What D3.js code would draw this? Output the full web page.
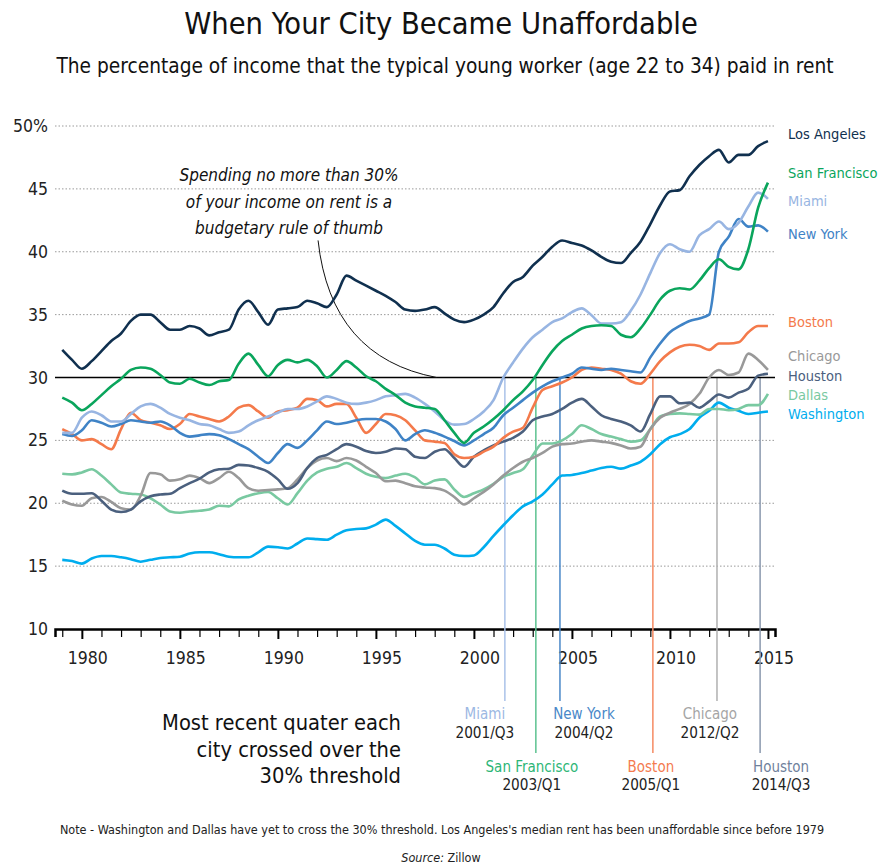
<!DOCTYPE html>
<html>
<head>
<meta charset="utf-8">
<script src="https://cdn.jsdelivr.net/npm/d3@7"></script>
<style>
  body { margin: 0; background: #fff; }
  svg { display: block; font-family: "Liberation Sans Narrow", "DejaVu Sans Condensed", sans-serif; }
</style>
</head>
<body>
<script>
// half-yearly points, 1979 .. 2015
var years = d3.range(1979, 2015.01, 0.5);

var cities = ["Los Angeles", "San Francisco", "Miami", "New York", "Boston", "Chicago", "Houston", "Dallas", "Washington"];
var colors = ["#10304f", "#0aa55c", "#98b5e2", "#3f83c6", "#f47a4b", "#999999", "#4b607e", "#79c9a1", "#00adee"];

var losAngeles = [32.2,31.4,30.7,31.3,32.1,32.9,33.5,34.5,35.0,35.0,34.4,33.8,33.8,34.1,33.9,33.35,33.6,33.8,35.4,36.1,35.2,34.2,35.4,35.5,35.6,36.1,35.9,35.6,36.6,38.1,37.7,37.3,36.9,36.5,36.0,35.4,35.3,35.4,35.6,35.1,34.6,34.4,34.6,35.0,35.6,36.7,37.6,38.0,38.9,39.6,40.4,40.9,40.7,40.5,40.1,39.6,39.2,39.1,39.9,40.8,42.2,43.7,44.8,44.9,46.0,46.9,47.6,48.1,47.1,47.7,47.7,48.4,48.8];
var sanFrancisco = [28.4,28.0,27.4,27.9,28.6,29.3,29.9,30.6,30.8,30.7,30.2,29.6,29.5,29.9,29.6,29.4,29.7,29.8,31.1,31.9,31.0,30.1,31.0,31.4,31.2,31.4,30.9,30.0,30.6,31.3,30.8,30.1,29.7,29.1,28.6,28.0,27.7,27.6,27.5,26.6,25.6,24.8,25.6,26.1,26.7,27.4,28.2,28.9,29.8,31.0,32.1,32.9,33.4,33.9,34.1,34.15,34.1,33.4,33.2,33.9,35.0,36.2,36.9,37.1,37.0,37.7,38.7,39.4,38.8,38.6,40.2,43.5,45.5];
var miami = [25.6,25.6,26.8,27.3,27.0,26.5,26.5,27.1,27.7,27.9,27.6,27.1,26.8,26.6,26.3,26.2,25.9,25.6,25.7,26.2,26.6,26.9,27.2,27.5,27.5,27.7,28.1,28.5,28.3,28.0,27.9,28.0,28.2,28.5,28.6,28.7,28.4,27.9,27.3,26.6,26.25,26.3,26.7,27.3,28.2,30.0,31.2,32.3,33.2,33.8,34.4,34.7,35.2,35.5,34.95,34.3,34.3,34.4,35.3,36.6,38.3,39.9,40.6,40.2,40.0,41.3,41.8,42.4,41.8,42.3,43.6,44.7,44.2];
var newYork = [25.5,25.35,25.8,26.6,26.4,26.1,26.3,26.6,26.5,26.4,26.5,26.2,25.6,25.3,25.4,25.5,25.4,25.1,24.7,24.3,23.7,23.2,24.0,24.7,24.4,25.0,25.8,26.5,26.3,26.4,26.6,26.7,26.7,26.5,25.9,25.0,25.5,25.8,25.6,25.3,24.95,24.6,25.0,25.5,26.0,27.0,27.6,28.2,28.8,29.3,29.7,30.0,30.3,30.8,30.7,30.6,30.7,30.6,30.5,30.4,31.6,32.7,33.6,34.1,34.5,34.7,35.0,40.0,41.2,42.6,42.0,42.1,41.6];
var boston = [25.9,25.5,25.0,25.1,24.7,24.3,25.9,27.2,26.6,26.4,26.2,25.9,26.3,27.1,26.9,26.7,26.5,26.9,27.6,27.8,27.3,26.8,27.3,27.4,27.6,28.3,28.2,27.7,27.9,27.9,26.8,25.6,26.3,27.1,27.0,26.6,25.8,25.0,24.9,24.8,23.9,23.6,23.7,24.1,24.5,25.2,25.7,26.0,27.6,29.0,29.3,29.6,30.0,30.6,30.8,30.7,30.6,30.3,29.7,29.5,30.3,31.3,32.0,32.45,32.6,32.5,32.2,32.7,32.7,32.8,33.6,34.1,34.1];
var chicago = [20.2,19.9,19.8,20.4,20.5,20.1,19.6,19.5,20.6,22.4,22.3,21.8,21.9,22.2,22.0,21.6,22.0,22.5,22.0,21.2,21.0,21.05,21.1,21.2,21.9,22.8,23.4,23.6,23.35,23.6,23.4,22.9,22.4,21.75,21.8,21.6,21.35,21.25,21.2,21.0,20.5,19.9,20.4,20.9,21.5,22.2,22.8,23.3,23.6,24.0,24.5,24.7,24.75,24.9,25.0,24.9,24.8,24.6,24.35,24.5,25.9,26.8,27.2,27.5,27.9,28.7,30.0,30.6,30.2,30.4,31.9,31.4,30.6];
var houston = [21.0,20.75,20.75,20.8,20.2,19.5,19.3,19.5,20.15,20.55,20.7,20.75,21.2,21.6,21.95,22.45,22.7,22.75,23.05,23.0,22.8,22.5,21.9,21.15,21.6,22.8,23.6,23.85,24.3,24.7,24.5,24.15,24.0,24.1,24.35,24.3,23.7,23.6,24.1,24.3,23.6,22.9,23.7,24.2,24.6,24.9,25.2,25.7,26.6,26.9,27.1,27.5,28.0,28.3,27.7,27.0,26.7,26.5,26.2,25.7,27.1,28.5,28.5,27.95,28.0,27.6,28.1,28.65,28.4,28.8,29.1,30.15,30.3];
var dallas = [22.35,22.3,22.45,22.7,22.2,21.5,20.85,20.75,20.7,20.4,19.9,19.35,19.25,19.35,19.4,19.5,19.8,19.75,20.3,20.6,20.8,20.9,20.4,19.9,20.8,21.8,22.45,22.75,22.9,23.2,22.8,22.35,22.1,22.0,22.2,22.35,22.05,21.5,21.8,21.9,21.1,20.5,20.8,21.1,21.55,22.1,22.4,22.7,23.8,24.75,24.75,25.0,25.5,26.2,25.9,25.5,25.3,25.1,24.9,25.0,25.9,26.9,27.1,27.15,27.1,27.05,27.5,27.5,27.4,27.5,27.8,27.8,28.7];
var washington = [15.5,15.4,15.2,15.6,15.8,15.8,15.7,15.55,15.35,15.5,15.65,15.7,15.75,16.0,16.1,16.1,15.95,15.75,15.7,15.7,16.1,16.55,16.5,16.4,16.8,17.2,17.15,17.1,17.5,17.85,17.95,18.0,18.3,18.7,18.2,17.6,17.0,16.7,16.7,16.4,15.9,15.8,15.85,16.5,17.4,18.25,19.05,19.75,20.15,20.7,21.5,22.2,22.25,22.4,22.6,22.8,22.9,22.75,23.0,23.3,23.9,24.7,25.25,25.5,25.9,26.8,27.35,28.0,27.6,27.35,27.1,27.2,27.3];

var seriesValues = [losAngeles, sanFrancisco, miami, newYork, boston, chicago, houston, dallas, washington];

// where each city crossed 30% (position on the time axis) and the quarter label
var crossCities = ["Miami", "San Francisco", "New York", "Boston", "Chicago", "Houston"];
var crossYears = [2001.58, 2003.16, 2004.39, 2009.13, 2012.4, 2014.6];
var crossLabels = ["2001/Q3", "2003/Q1", "2004/Q2", "2005/Q1", "2012/Q2", "2014/Q3"];

var yTicks = [10, 15, 20, 25, 30, 35, 40, 45, 50];
var xMajor = [1980, 1985, 1990, 1995, 2000, 2005, 2010, 2015];

var width = 882, height = 867;

var svg = d3.select("body").append("svg")
  .attr("width", width)
  .attr("height", height);

var x = d3.scaleLinear().domain([1978.63, 2015.36]).range([55, 775]);
var y = d3.scaleLinear().domain([10, 50]).range([629, 126]);

// title
svg.append("text")
  .attr("x", 441).attr("y", 34)
  .attr("text-anchor", "middle")
  .style("font-size", "30.5px")
  .style("fill", "#111")
  .text("When Your City Became Unaffordable");
svg.append("text")
  .attr("x", 445).attr("y", 73)
  .attr("text-anchor", "middle")
  .style("font-size", "20.7px")
  .style("fill", "#111")
  .text("The percentage of income that the typical young worker (age 22 to 34) paid in rent");

// grid
svg.append("g").selectAll("line")
  .data(yTicks.filter(function(d){ return d > 10 && d != 30; }))
  .enter().append("line")
    .attr("x1", 55).attr("x2", 775)
    .attr("y1", function(d){ return y(d); })
    .attr("y2", function(d){ return y(d); })
    .attr("stroke", "#9a9a9a")
    .attr("stroke-width", 1)
    .attr("stroke-dasharray", "1.5,2");

svg.append("g").selectAll("text")
  .data(yTicks)
  .enter().append("text")
    .attr("x", 48)
    .attr("y", function(d){ return y(d) + 6; })
    .attr("text-anchor", "end")
    .style("font-size", "17.5px")
    .style("fill", "#222")
    .text(function(d){ return d == 50 ? d + "%" : d; });

// x axis
var axis = d3.axisBottom(x)
  .tickValues(d3.range(1979, 2016))
  .tickSizeOuter(0)
  .tickSize(8)
  .tickFormat("");
var gx = svg.append("g")
  .attr("transform", "translate(0," + y(10) + ")")
  .call(axis);
gx.select(".domain").attr("stroke", "#000").attr("stroke-width", 2.5);
gx.selectAll(".tick line")
  .attr("stroke", "#000")
  .attr("stroke-width", function(d){ return d % 5 == 0 ? 2 : 1.2; })
  .attr("y2", function(d){ return d % 5 == 0 ? 10 : 8; });

svg.append("g").selectAll("text")
  .data(xMajor)
  .enter().append("text")
    .attr("x", function(d){ return x(d) + 6; })
    .attr("y", 664)
    .attr("text-anchor", "middle")
    .style("font-size", "17.5px")
    .style("fill", "#222")
    .text(function(d){ return d; });

// crossing markers
var crossDx = [-20, -4, 24, -2, -7, 21];
var crossRow = [0, 1, 0, 1, 0, 1];
var crossColor = ["#9cb8e3", "#2db676", "#4a88c8", "#f47b4f", "#a5a5a5", "#6f819c"];
var crossLine = ["#aac2e8", "#5cc290", "#4a88c8", "#f58a62", "#b0b0b0", "#8a98ad"];

var cg = svg.append("g").selectAll("g")
  .data(crossCities)
  .enter().append("g");
cg.append("line")
  .attr("x1", function(d, i){ return x(crossYears[i]); })
  .attr("x2", function(d, i){ return x(crossYears[i]); })
  .attr("y1", y(30))
  .attr("y2", function(d, i){ return crossRow[i] ? 753 : 701; })
  .attr("stroke", function(d, i){ return crossLine[i]; })
  .attr("stroke-width", 1.5);
cg.append("text")
  .attr("x", function(d, i){ return x(crossYears[i]) + crossDx[i]; })
  .attr("y", function(d, i){ return crossRow[i] ? 772 : 719; })
  .attr("text-anchor", "middle")
  .style("font-size", "15px")
  .style("fill", function(d, i){ return crossColor[i]; })
  .text(function(d){ return d; });
cg.append("text")
  .attr("x", function(d, i){ return x(crossYears[i]) + crossDx[i]; })
  .attr("y", function(d, i){ return crossRow[i] ? 790 : 738; })
  .attr("text-anchor", "middle")
  .style("font-size", "15.2px")
  .style("fill", "#222")
  .text(function(d, i){ return crossLabels[i]; });

// 30% threshold
svg.append("line")
  .attr("x1", 55).attr("x2", 775)
  .attr("y1", y(30)).attr("y2", y(30))
  .attr("stroke", "#000")
  .attr("stroke-width", 1.3);

// annotation
var ann = ["Spending no more than 30%", "of your income on rent is a", "budgetary rule of thumb"];
svg.append("g").selectAll("text")
  .data(ann)
  .enter().append("text")
    .attr("x", 289)
    .attr("y", function(d, i){ return 181 + i * 26.5; })
    .attr("text-anchor", "middle")
    .style("font-size", "17px")
    .style("font-style", "italic")
    .style("fill", "#111")
    .text(function(d){ return d; });
svg.append("path")
  .attr("d", "M" + x(1992.05) + "," + y(40.9) + " Q" + x(1992.7) + "," + y(31.6) + " " + x(1998.1) + "," + y(30))
  .attr("fill", "none")
  .attr("stroke", "#111")
  .attr("stroke-width", 1);

// lines
var line = d3.line()
  .x(function(d, i){ return x(years[i]); })
  .y(function(d){ return y(d); })
  .curve(d3.curveMonotoneX);

var order = [8, 7, 5, 6, 4, 3, 2, 1, 0];
svg.append("g").selectAll("path")
  .data(order)
  .enter().append("path")
    .attr("d", function(k){ return line(seriesValues[k]); })
    .attr("fill", "none")
    .attr("stroke", function(k){ return colors[k]; })
    .attr("stroke-width", 2.6)
    .attr("stroke-linejoin", "round");

// right labels
var labelY = [133, 172, 200, 233, 321, 355, 375, 394, 413];
svg.append("g").selectAll("text")
  .data(cities)
  .enter().append("text")
    .attr("x", 788)
    .attr("y", function(d, i){ return labelY[i] + 5.5; })
    .style("font-size", "14.5px")
    .style("fill", function(d, i){ return colors[i]; })
    .text(function(d){ return d; });

// bottom notes
var notes = ["Most recent quater each", "city crossed over the", "30% threshold"];
svg.append("g").selectAll("text")
  .data(notes)
  .enter().append("text")
    .attr("x", 401)
    .attr("y", function(d, i){ return 730 + i * 26.5; })
    .attr("text-anchor", "end")
    .style("font-size", "21.7px")
    .style("fill", "#111")
    .text(function(d){ return d; });

svg.append("text")
  .attr("x", 442).attr("y", 834)
  .attr("text-anchor", "middle")
  .style("font-size", "12.5px")
  .style("fill", "#222")
  .text("Note - Washington and Dallas have yet to cross the 30% threshold. Los Angeles's median rent has been unaffordable since before 1979");

var src = svg.append("text")
  .attr("x", 441).attr("y", 862)
  .attr("text-anchor", "middle")
  .style("font-size", "12.5px")
  .style("fill", "#222");
src.append("tspan").style("font-style", "italic").text("Source:");
src.append("tspan").text(" Zillow");
</script>
</body>
</html>
